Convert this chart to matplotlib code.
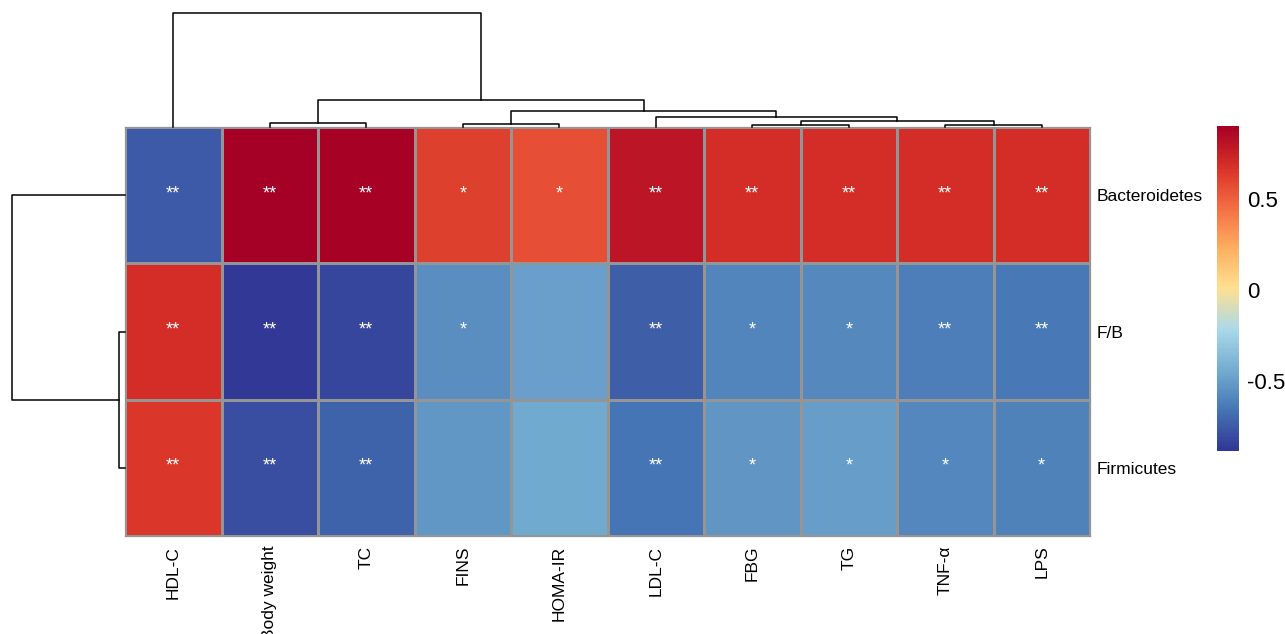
import numpy as np
import matplotlib
matplotlib.use("Agg")
import matplotlib.pyplot as plt
from matplotlib.colors import LinearSegmentedColormap

plt.rcParams["font.family"] = ["Liberation Sans", "DejaVu Sans"]

# data (display order after clustering)
row_names = ["Bacteroidetes", "F/B", "Firmicutes"]
col_names = ["HDL-C", "Body weight", "TC", "FINS", "HOMA-IR",
             "LDL-C", "FBG", "TG", "TNF-α", "LPS"]

bacteroidetes = [-0.76, 0.90, 0.895, 0.62, 0.565, 0.80, 0.69, 0.69, 0.69, 0.69]
fb_ratio      = [0.69, -0.877, -0.825, -0.56, -0.49, -0.745, -0.595, -0.58, -0.626, -0.646]
firmicutes    = [0.655, -0.80, -0.72, -0.528, -0.447, -0.66, -0.535, -0.497, -0.59, -0.607]

stars_bact = ["**", "**", "**", "*", "*", "**", "**", "**", "**", "**"]
stars_fb   = ["**", "**", "**", "*", "", "**", "*", "*", "**", "**"]
stars_firm = ["**", "**", "**", "", "", "**", "*", "*", "*", "*"]

# linkage (left, right, height); leaves 0..n-1, merges n, n+1, ...
col_linkage = [(6, 7, 2.3), (8, 9, 2.3), (3, 4, 3.0), (1, 2, 4.3),
               (10, 11, 6.3), (5, 14, 10.3), (12, 15, 16.3),
               (13, 16, 27.0), (0, 17, 114.3)]
row_linkage = [(1, 2, 5.7), (0, 3, 113.3)]

palette = ["#313695", "#4575B4", "#74ADD1", "#ABD9E9", "#FEE090",
           "#FDAE61", "#F46D43", "#D73027", "#A50026"]
vmin, vmax = -0.886, 0.904

W, H = 1285, 634


def px_axes(fig, x0, y0, x1, y1):
    """axes from pixel box (top-left origin)"""
    return fig.add_axes([x0 / W, 1 - y1 / H, (x1 - x0) / W, (y1 - y0) / H])


def draw_tree(ax, linkage, n, horizontal=False):
    pos = {i: i + 0.5 for i in range(n)}
    hgt = {i: 0.0 for i in range(n)}
    for k, (a, b, h) in enumerate(linkage):
        xs = [pos[a], pos[a], pos[b], pos[b]]
        ys = [hgt[a], h, h, hgt[b]]
        if horizontal:
            ax.plot(ys, xs, color="black", lw=1.1, clip_on=False)
        else:
            ax.plot(xs, ys, color="black", lw=1.1, clip_on=False)
        pos[n + k] = (pos[a] + pos[b]) / 2
        hgt[n + k] = h
    return max(h for _, _, h in linkage)


cmap = LinearSegmentedColormap.from_list("rdylbu", palette, N=256)
fig = plt.figure(figsize=(W / 100, H / 100), dpi=100)

# heatmap
data = np.array([bacteroidetes, fb_ratio, firmicutes])
stars = [stars_bact, stars_fb, stars_firm]
ax = px_axes(fig, 125, 127, 1090, 536)
mesh = ax.pcolormesh(data, cmap=cmap, vmin=vmin, vmax=vmax,
                     edgecolors="#959595", linewidth=0.75)
ax.set_xlim(0, len(col_names))
ax.set_ylim(len(row_names), 0)
for i in range(len(row_names)):
    for j in range(len(col_names)):
        if stars[i][j]:
            ax.text(j + 0.5, i + 0.49, stars[i][j], color="white",
                    ha="center", va="center", fontsize=13)
ax.set_xticks(np.arange(len(col_names)) + 0.5)
ax.set_xticklabels(col_names, rotation=90, fontsize=12.5, va="top")
ax.set_yticks(np.arange(len(row_names)) + 0.5)
ax.set_yticklabels(row_names, fontsize=12.5)
ax.yaxis.tick_right()
ax.tick_params(length=0, pad=5)
ax.tick_params(axis="x", pad=7)
for s in ax.spines.values():
    s.set_color("#959595")
    s.set_linewidth(0.9)

# column dendrogram
axc = px_axes(fig, 125, 12.7, 1090, 127)
top = draw_tree(axc, col_linkage, len(col_names))
axc.set_xlim(0, len(col_names))
axc.set_ylim(0, top)
axc.axis("off")

# row dendrogram
axr = px_axes(fig, 11.7, 127, 125, 536)
top = draw_tree(axr, row_linkage, len(row_names), horizontal=True)
axr.set_ylim(len(row_names), 0)
axr.set_xlim(top, 0)
axr.axis("off")

# colour bar
cax = px_axes(fig, 1217, 126, 1239, 451)
cb = fig.colorbar(mesh, cax=cax, ticks=[-0.5, 0, 0.5])
cb.set_ticklabels(["-0.5", "0", "0.5"])
cb.outline.set_visible(False)
cax.tick_params(length=0, pad=6, labelsize=16)

fig.savefig("out.png", dpi=100)
